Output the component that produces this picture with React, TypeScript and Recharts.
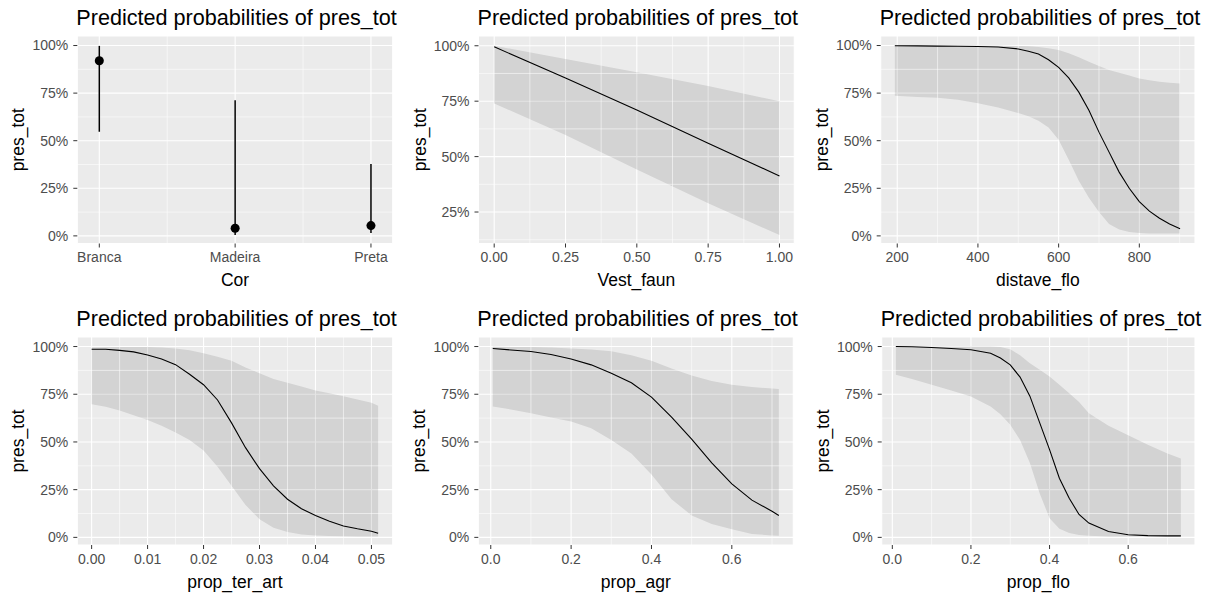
import React from 'react';
import { ComposedChart, XAxis, YAxis, CartesianGrid, Area, Line, Scatter, ErrorBar, ReferenceLine } from 'recharts';

const FONT = '"Liberation Sans", Arial, Helvetica, sans-serif';

// ---- data ----

// Cor (categorical)
const corCategories = ['Branca', 'Madeira', 'Preta'];
const corPred = [0.92, 0.04, 0.054];
const corLow = [0.547, 0.005, 0.015];
const corHigh = [0.998, 0.713, 0.378];

// Vest_faun
const vestX = [0, 0.25, 0.5, 0.75, 1];
const vestPred = [0.995, 0.855, 0.71, 0.56, 0.413];
const vestLow = [0.74, 0.597, 0.442, 0.289, 0.146];
const vestHigh = [1.0, 0.94, 0.88, 0.818, 0.75];

// distave_flo
const distX = [194, 250, 300, 350, 400, 450, 500, 525, 550, 575, 600, 625, 650, 675, 700, 725, 750, 775, 800, 825, 850, 875, 901];
const distPred = [0.999, 0.998, 0.997, 0.996, 0.995, 0.992, 0.982, 0.97, 0.955, 0.925, 0.885, 0.83, 0.755, 0.66, 0.545, 0.44, 0.335, 0.25, 0.18, 0.13, 0.093, 0.062, 0.037];
const distLow = [0.736, 0.73, 0.725, 0.715, 0.697, 0.675, 0.645, 0.628, 0.605, 0.57, 0.505, 0.4, 0.29, 0.2, 0.125, 0.062, 0.033, 0.02, 0.015, 0.013, 0.012, 0.012, 0.012];
const distHigh = [1, 1, 1, 1, 1, 1, 0.998, 0.996, 0.992, 0.985, 0.977, 0.96, 0.938, 0.915, 0.892, 0.872, 0.857, 0.842, 0.827, 0.818, 0.81, 0.805, 0.8];

// prop_ter_art
const terX = [0, 0.0025, 0.005, 0.0075, 0.01, 0.0125, 0.015, 0.0175, 0.02, 0.0225, 0.025, 0.0275, 0.03, 0.0325, 0.035, 0.0375, 0.04, 0.0425, 0.045, 0.0475, 0.05, 0.0512];
const terPred = [0.986, 0.986, 0.98, 0.972, 0.956, 0.935, 0.905, 0.855, 0.8, 0.72, 0.6, 0.47, 0.36, 0.27, 0.2, 0.15, 0.115, 0.085, 0.06, 0.045, 0.032, 0.022];
const terLow = [0.698, 0.685, 0.665, 0.64, 0.615, 0.585, 0.55, 0.51, 0.455, 0.37, 0.27, 0.17, 0.095, 0.05, 0.028, 0.015, 0.01, 0.007, 0.006, 0.005, 0.005, 0.005];
const terHigh = [0.995, 0.996, 0.998, 0.998, 0.998, 0.995, 0.99, 0.98, 0.965, 0.947, 0.925, 0.89, 0.86, 0.83, 0.81, 0.79, 0.77, 0.755, 0.74, 0.722, 0.705, 0.69];

// prop_agr
const agrX = [0.005, 0.05, 0.1, 0.15, 0.2, 0.25, 0.3, 0.35, 0.4, 0.45, 0.5, 0.55, 0.6, 0.65, 0.7, 0.717];
const agrPred = [0.99, 0.982, 0.974, 0.958, 0.935, 0.904, 0.86, 0.81, 0.735, 0.63, 0.515, 0.39, 0.28, 0.195, 0.137, 0.115];
const agrLow = [0.686, 0.67, 0.65, 0.628, 0.607, 0.572, 0.51, 0.44, 0.33, 0.2, 0.115, 0.07, 0.042, 0.018, 0.01, 0.009];
const agrHigh = [1.0, 0.998, 0.997, 0.995, 0.99, 0.985, 0.975, 0.955, 0.925, 0.885, 0.848, 0.82, 0.8, 0.788, 0.78, 0.778];

// prop_flo
const floX = [0.009, 0.05, 0.1, 0.15, 0.2, 0.25, 0.275, 0.3, 0.325, 0.35, 0.375, 0.4, 0.425, 0.45, 0.475, 0.5, 0.55, 0.6, 0.65, 0.7, 0.734];
const floPred = [1.0, 0.999, 0.995, 0.99, 0.983, 0.965, 0.94, 0.904, 0.84, 0.74, 0.6, 0.46, 0.31, 0.205, 0.12, 0.075, 0.031, 0.014, 0.009, 0.008, 0.008];
const floLow = [0.852, 0.83, 0.8, 0.77, 0.738, 0.686, 0.645, 0.59, 0.51, 0.39, 0.23, 0.1, 0.045, 0.023, 0.013, 0.009, 0.005, 0.005, 0.005, 0.005, 0.005];
const floHigh = [1, 1, 1, 1, 1, 1, 0.997, 0.986, 0.955, 0.913, 0.878, 0.843, 0.8, 0.755, 0.71, 0.65, 0.585, 0.535, 0.485, 0.44, 0.413];

// ticks
const pctTicks = [0, 0.25, 0.5, 0.75, 1];
const pctMinor = [0.125, 0.375, 0.625, 0.875];
const vestYTicks = [0.25, 0.5, 0.75, 1];

const pct = (v: number) => `${Math.round(v * 100)}%`;

type Rect = { left: number; right: number; top: number; bottom: number };
type Cell = { x: number; y: number; w: number; h: number };

const YAW = 50;
const XAH = 30;

function ribbonRows(x: number[], pred: number[], lo: number[], hi: number[]) {
  return x.map((v, i) => ({ x: v, pred: pred[i], lo: lo[i], hi: hi[i] }));
}

interface PanelProps {
  cell: Cell;
  plot: Rect;
  rows: any[];
  xDomain: [number, number];
  yDomain: [number, number];
  xTicks: number[];
  xMinor: number[];
  yTicks: number[];
  yMinor: number[];
  xFormat: (v: number) => string;
  xLabel: string;
  points?: boolean;
}

const Panel: React.FC<PanelProps> = ({
  cell, plot, rows, xDomain, yDomain, xTicks, xMinor, yTicks, yMinor, xFormat, xLabel, points
}) => {
  const margin = {
    top: plot.top - cell.y,
    right: cell.x + cell.w - plot.right,
    left: plot.left - cell.x - YAW,
    bottom: cell.y + cell.h - plot.bottom - XAH,
  };
  const pl = plot.left - cell.x;
  const pt = plot.top - cell.y;
  const pw = plot.right - plot.left;
  const ph = plot.bottom - plot.top;
  const tick = { fill: '#4D4D4D', fontSize: 14, fontFamily: FONT };

  return (
    <div style={{ position: 'absolute', left: cell.x, top: cell.y, width: cell.w, height: cell.h }}>
      <ComposedChart width={cell.w} height={cell.h} data={rows} margin={margin}>
        <CartesianGrid fill="#EBEBEB" fillOpacity={1} stroke="#FFFFFF" strokeWidth={1.1} />
        {/* minor grid lines, ggplot style */}
        {yMinor.map((v) => (
          <ReferenceLine key={`my${v}`} y={v} stroke="#FFFFFF" strokeWidth={0.55} />
        ))}
        {xMinor.map((v) => (
          <ReferenceLine key={`mx${v}`} x={v} stroke="#FFFFFF" strokeWidth={0.55} />
        ))}
        <XAxis
          type="number"
          dataKey="x"
          domain={xDomain}
          ticks={xTicks}
          interval={0}
          allowDataOverflow
          height={XAH}
          axisLine={false}
          tickLine={{ stroke: '#333333' }}
          tickSize={4}
          tickMargin={5}
          tick={tick}
          tickFormatter={xFormat}
        />
        <YAxis
          type="number"
          domain={yDomain}
          ticks={yTicks}
          interval={0}
          allowDataOverflow
          width={YAW}
          axisLine={false}
          tickLine={{ stroke: '#333333' }}
          tickSize={4}
          tickMargin={5}
          tick={tick}
          tickFormatter={pct}
        />
        {points ? (
          <Scatter dataKey="pred" fill="#000000" isAnimationActive={false}>
            <ErrorBar dataKey="err" width={0} stroke="#000000" strokeWidth={1.5} direction="y" isAnimationActive={false} />
          </Scatter>
        ) : null}
        {!points ? (
          <Area
            type="linear"
            dataKey={(d: any) => [d.lo, d.hi]}
            stroke="none"
            fill="#000000"
            fillOpacity={0.1}
            isAnimationActive={false}
          />
        ) : null}
        {!points ? (
          <Line type="linear" dataKey="pred" stroke="#000000" strokeWidth={1.1} dot={false} isAnimationActive={false} />
        ) : null}
      </ComposedChart>
      <svg
        width={cell.w}
        height={cell.h}
        style={{ position: 'absolute', left: 0, top: 0, pointerEvents: 'none' }}
      >
        <text x={pl - 1} y={pt - 11} fontFamily={FONT} fontSize={21.6} fill="#000">
          Predicted probabilities of pres_tot
        </text>
        <text x={pl + pw / 2} y={pt + ph + 42.5} fontFamily={FONT} fontSize={17.5} fill="#000" textAnchor="middle">
          {xLabel}
        </text>
        <text
          transform={`translate(${pl - 53}, ${pt + ph / 2}) rotate(-90)`}
          fontFamily={FONT}
          fontSize={17.5}
          fill="#000"
          textAnchor="middle"
        >
          pres_tot
        </text>
      </svg>
    </div>
  );
};

const corRows = corCategories.map((c, i) => ({
  x: i + 1,
  pred: corPred[i],
  err: [corPred[i] - corLow[i], corHigh[i] - corPred[i]],
}));

const fix2 = (v: number) => v.toFixed(2);
const fix1 = (v: number) => v.toFixed(1);

export default function App() {
  return (
    <div style={{ position: 'absolute', left: 0, top: 0, width: 1216, height: 599, background: '#FFFFFF', overflow: 'hidden' }}>
      <Panel
        cell={{ x: 0, y: 0, w: 405, h: 300 }}
        plot={{ left: 77.3, right: 392.7, top: 36, bottom: 243.5 }}
        rows={corRows}
        xDomain={[0.838, 3.16]}
        yDomain={[-0.04, 1.05]}
        xTicks={[1, 2, 3]}
        xMinor={[1.5, 2.5]}
        yTicks={pctTicks}
        yMinor={pctMinor}
        xFormat={(v) => corCategories[Math.round(v) - 1] ?? ''}
        xLabel="Cor"
        points
      />
      <Panel
        cell={{ x: 405, y: 0, w: 405, h: 300 }}
        plot={{ left: 478.5, right: 794.3, top: 36, bottom: 243.5 }}
        rows={ribbonRows(vestX, vestPred, vestLow, vestHigh)}
        xDomain={[-0.055, 1.052]}
        yDomain={[0.108, 1.044]}
        xTicks={[0, 0.25, 0.5, 0.75, 1]}
        xMinor={[0.125, 0.375, 0.625, 0.875]}
        yTicks={vestYTicks}
        yMinor={pctMinor}
        xFormat={fix2}
        xLabel="Vest_faun"
      />
      <Panel
        cell={{ x: 810, y: 0, w: 406, h: 300 }}
        plot={{ left: 880.7, right: 1195, top: 36, bottom: 243.5 }}
        rows={ribbonRows(distX, distPred, distLow, distHigh)}
        xDomain={[159, 938]}
        yDomain={[-0.04, 1.05]}
        xTicks={[200, 400, 600, 800]}
        xMinor={[300, 500, 700, 900]}
        yTicks={pctTicks}
        yMinor={pctMinor}
        xFormat={(v) => String(v)}
        xLabel="distave_flo"
      />
      <Panel
        cell={{ x: 0, y: 300, w: 405, h: 299 }}
        plot={{ left: 77.3, right: 392.7, top: 337, bottom: 545 }}
        rows={ribbonRows(terX, terPred, terLow, terHigh)}
        xDomain={[-0.00256, 0.0538]}
        yDomain={[-0.04, 1.05]}
        xTicks={[0, 0.01, 0.02, 0.03, 0.04, 0.05]}
        xMinor={[0.005, 0.015, 0.025, 0.035, 0.045]}
        yTicks={pctTicks}
        yMinor={pctMinor}
        xFormat={fix2}
        xLabel="prop_ter_art"
      />
      <Panel
        cell={{ x: 405, y: 300, w: 405, h: 299 }}
        plot={{ left: 478.3, right: 793.3, top: 337, bottom: 545 }}
        rows={ribbonRows(agrX, agrPred, agrLow, agrHigh)}
        xDomain={[-0.031, 0.753]}
        yDomain={[-0.04, 1.05]}
        xTicks={[0, 0.2, 0.4, 0.6]}
        xMinor={[0.1, 0.3, 0.5, 0.7]}
        yTicks={pctTicks}
        yMinor={pctMinor}
        xFormat={fix1}
        xLabel="prop_agr"
      />
      <Panel
        cell={{ x: 810, y: 300, w: 406, h: 299 }}
        plot={{ left: 881.7, right: 1195, top: 337, bottom: 545 }}
        rows={ribbonRows(floX, floPred, floLow, floHigh)}
        xDomain={[-0.027, 0.77]}
        yDomain={[-0.04, 1.05]}
        xTicks={[0, 0.2, 0.4, 0.6]}
        xMinor={[0.1, 0.3, 0.5, 0.7]}
        yTicks={pctTicks}
        yMinor={pctMinor}
        xFormat={fix1}
        xLabel="prop_flo"
      />
    </div>
  );
}
